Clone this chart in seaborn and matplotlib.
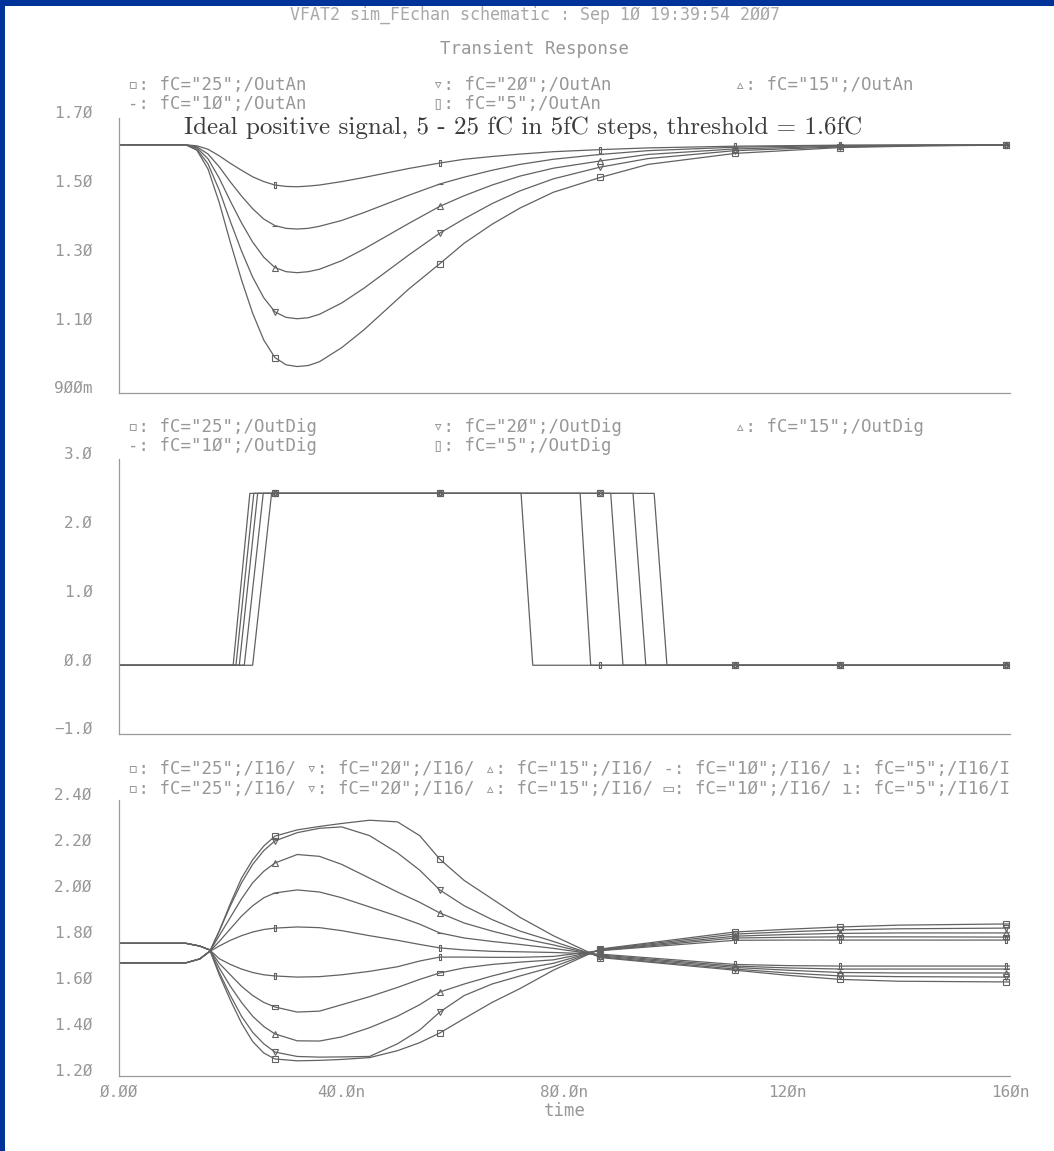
import numpy as np
import pandas as pd
import matplotlib
matplotlib.use("Agg")
import matplotlib.pyplot as plt
import matplotlib.transforms as mtransforms
from matplotlib.patches import Rectangle
from matplotlib.ticker import MultipleLocator
import seaborn as sns

# ---------------- data ----------------
MARK_T = [28, 57.6, 86.4, 110.6, 129.5, 159.2]

# panel 1 : /OutAn
T_AN = [0, 12, 14, 16, 18, 20, 22, 24, 26, 28, 30, 32, 34, 36, 40, 44, 48, 52,
        57.6, 62, 67, 72, 78, 86.4, 95, 110.6, 129.5, 145, 159.2, 160]
AN_25 = [1.622, 1.622, 1.606, 1.551, 1.454, 1.338, 1.229, 1.132, 1.054, 1.003, 0.982, 0.977,
         0.980, 0.991, 1.032, 1.084, 1.143, 1.202, 1.276, 1.336, 1.391, 1.438, 1.484, 1.527,
         1.565, 1.597, 1.614, 1.619, 1.621, 1.621]
AN_20 = [1.622, 1.622, 1.609, 1.566, 1.490, 1.399, 1.313, 1.237, 1.177, 1.136, 1.120, 1.116,
         1.119, 1.129, 1.162, 1.205, 1.253, 1.301, 1.365, 1.407, 1.451, 1.488, 1.523, 1.557,
         1.582, 1.605, 1.616, 1.620, 1.621, 1.621]
AN_15 = [1.622, 1.622, 1.613, 1.581, 1.525, 1.458, 1.395, 1.339, 1.295, 1.265, 1.253, 1.250,
         1.253, 1.260, 1.285, 1.319, 1.356, 1.393, 1.443, 1.474, 1.505, 1.531, 1.554, 1.575,
         1.594, 1.610, 1.618, 1.620, 1.621, 1.621]
AN_10 = [1.622, 1.622, 1.616, 1.595, 1.558, 1.514, 1.473, 1.436, 1.406, 1.387, 1.379, 1.377,
         1.379, 1.385, 1.402, 1.425, 1.450, 1.475, 1.508, 1.528, 1.548, 1.565, 1.580, 1.594,
         1.605, 1.615, 1.620, 1.621, 1.622, 1.622]
AN_5 = [1.622, 1.622, 1.619, 1.609, 1.590, 1.568, 1.548, 1.529, 1.515, 1.505, 1.501, 1.500,
        1.502, 1.505, 1.515, 1.527, 1.540, 1.553, 1.569, 1.580, 1.588, 1.595, 1.602, 1.608,
        1.613, 1.618, 1.621, 1.622, 1.622, 1.622]

# panel 2 : /OutDig
DIG_T25 = [0, 20.5, 23.5, 28, 57.6, 86.4, 96.1, 98.4, 110.6, 129.5, 159.2, 160]
DIG_V25 = [0, 0, 2.5, 2.5, 2.5, 2.5, 2.5, 0, 0, 0, 0, 0]
DIG_T20 = [0, 21.0, 24.2, 28, 57.6, 86.4, 92.3, 94.6, 110.6, 129.5, 159.2, 160]
DIG_V20 = [0, 0, 2.5, 2.5, 2.5, 2.5, 2.5, 0, 0, 0, 0, 0]
DIG_T15 = [0, 21.6, 24.9, 28, 57.6, 86.4, 88.3, 90.5, 110.6, 129.5, 159.2, 160]
DIG_V15 = [0, 0, 2.5, 2.5, 2.5, 2.5, 2.5, 0, 0, 0, 0, 0]
DIG_T10 = [0, 22.5, 25.9, 28, 57.6, 82.8, 84.7, 86.4, 110.6, 129.5, 159.2, 160]
DIG_V10 = [0, 0, 2.5, 2.5, 2.5, 2.5, 0, 0, 0, 0, 0, 0]
DIG_T5 = [0, 24.0, 27.4, 28, 57.6, 72.2, 74.3, 86.4, 110.6, 129.5, 159.2, 160]
DIG_V5 = [0, 0, 2.5, 2.5, 2.5, 2.5, 0, 0, 0, 0, 0, 0]

# panel 3 : /I16/
T_I = [0, 12, 14.5, 16.3, 18, 20, 22, 24, 26, 28, 32, 36, 40, 45, 50, 54, 57.6,
       62, 67, 72, 78, 86.4, 110.6, 120, 129.5, 140, 159.2, 160]
UP_25 = [1.692, 1.692, 1.709, 1.742, 1.83, 1.95, 2.06, 2.14, 2.20, 2.243, 2.27, 2.285, 2.298, 2.312,
         2.305, 2.245, 2.143, 2.05, 1.97, 1.89, 1.81, 1.715, 1.660, 1.638, 1.620, 1.612, 1.609, 1.609]
UP_20 = [1.692, 1.692, 1.709, 1.742, 1.83, 1.94, 2.04, 2.12, 2.18, 2.222, 2.258, 2.277, 2.283, 2.245,
         2.17, 2.095, 2.009, 1.94, 1.88, 1.83, 1.785, 1.718, 1.665, 1.648, 1.635, 1.632, 1.630, 1.630]
UP_15 = [1.692, 1.692, 1.709, 1.742, 1.81, 1.89, 1.97, 2.04, 2.09, 2.126, 2.163, 2.155, 2.12, 2.06,
         2.0, 1.955, 1.909, 1.865, 1.83, 1.80, 1.77, 1.722, 1.672, 1.660, 1.650, 1.648, 1.648, 1.648]
UP_10 = [1.692, 1.692, 1.709, 1.742, 1.785, 1.84, 1.895, 1.94, 1.975, 1.996, 2.009, 2.0, 1.975, 1.935,
         1.895, 1.86, 1.822, 1.80, 1.785, 1.772, 1.755, 1.726, 1.678, 1.670, 1.665, 1.665, 1.665, 1.665]
UP_5 = [1.692, 1.692, 1.709, 1.742, 1.765, 1.79, 1.81, 1.826, 1.837, 1.843, 1.848, 1.845, 1.832, 1.81,
        1.79, 1.772, 1.757, 1.748, 1.742, 1.740, 1.737, 1.730, 1.685, 1.680, 1.678, 1.678, 1.678, 1.678]
DN_25 = [1.777, 1.777, 1.765, 1.748, 1.64, 1.53, 1.43, 1.35, 1.30, 1.274, 1.266, 1.268, 1.272, 1.280,
         1.31, 1.345, 1.387, 1.45, 1.52, 1.58, 1.66, 1.752, 1.826, 1.838, 1.848, 1.856, 1.861, 1.861]
DN_20 = [1.777, 1.777, 1.765, 1.748, 1.65, 1.55, 1.46, 1.39, 1.34, 1.304, 1.285, 1.282, 1.283, 1.285,
         1.34, 1.40, 1.478, 1.55, 1.60, 1.635, 1.675, 1.750, 1.817, 1.827, 1.835, 1.840, 1.843, 1.843]
DN_15 = [1.777, 1.777, 1.765, 1.748, 1.67, 1.59, 1.52, 1.46, 1.415, 1.383, 1.353, 1.352, 1.37, 1.41,
         1.46, 1.51, 1.565, 1.60, 1.635, 1.665, 1.69, 1.748, 1.808, 1.815, 1.820, 1.822, 1.822, 1.822]
DN_10 = [1.777, 1.777, 1.765, 1.748, 1.69, 1.64, 1.59, 1.55, 1.52, 1.50, 1.478, 1.482, 1.51, 1.545,
         1.585, 1.62, 1.648, 1.67, 1.685, 1.695, 1.705, 1.746, 1.800, 1.803, 1.805, 1.805, 1.804, 1.804]
DN_5 = [1.777, 1.777, 1.765, 1.748, 1.71, 1.685, 1.665, 1.65, 1.64, 1.635, 1.630, 1.632, 1.64, 1.655,
        1.675, 1.70, 1.717, 1.717, 1.716, 1.716, 1.72, 1.745, 1.790, 1.791, 1.791, 1.791, 1.791, 1.791]

# tick labels (slashed zeros as drawn)
X_TICKS = [0, 40, 80, 120, 160]
X_LABELS = ["Ø.ØØ", "4Ø.Øn", "8Ø.Øn", "12Øn", "16Øn"]
Y1_TICKS = [0.9, 1.1, 1.3, 1.5, 1.7]
Y1_LABELS = ["9ØØm", "1.1Ø", "1.3Ø", "1.5Ø", "1.7Ø"]
Y2_TICKS = [-1, 0, 1, 2, 3]
Y2_LABELS = ["−1.Ø", "Ø.Ø", "1.Ø", "2.Ø", "3.Ø"]
Y3_TICKS = [1.2, 1.4, 1.6, 1.8, 2.0, 2.2, 2.4]
Y3_LABELS = ["1.2Ø", "1.4Ø", "1.6Ø", "1.8Ø", "2.ØØ", "2.2Ø", "2.4Ø"]

# ---------------- style ----------------
sns.set_theme(style="white")
plt.rcParams["font.family"] = ["DejaVu Sans Mono", "DejaVu Sans"]

W, H = 1054, 1151
BLUE = "#003399"
AXC = "#9a9a9a"
TXC = "#979797"
LINE = "#626262"

TALL = [(-0.4, -1), (0.4, -1), (0.4, 1), (-0.4, 1), (-0.4, -1)]
WIDE = [(-1, -0.45), (1, -0.45), (1, 0.45), (-1, 0.45), (-1, -0.45)]

fig = plt.figure(figsize=(W / 100, H / 100), dpi=100)
fig.patch.set_facecolor("white")


def px_axes(x0, x1, ytop, ybot):
    return fig.add_axes([x0 / W, 1 - ybot / H, (x1 - x0) / W, (ybot - ytop) / H])


def style(ax, ylim, yt, yl, yminor, xlabels):
    ax.set_facecolor("white")
    ax.set_xlim(0, 160)
    ax.set_ylim(*ylim)
    for s in ["top", "right"]:
        ax.spines[s].set_visible(False)
    for s in ["left", "bottom"]:
        ax.spines[s].set_color(AXC)
        ax.spines[s].set_linewidth(0.9)
    ax.set_xticks(X_TICKS)
    ax.set_xticklabels(X_LABELS if xlabels else [""] * len(X_TICKS))
    ax.xaxis.set_minor_locator(MultipleLocator(4))
    ax.set_yticks(yt)
    ax.set_yticklabels(yl)
    ax.yaxis.set_minor_locator(MultipleLocator(yminor))
    ax.tick_params(which="both", direction="in", color=AXC, labelcolor=TXC,
                   width=0.8, labelsize=11.5)
    ax.tick_params(which="major", length=4.5)
    ax.tick_params(which="minor", length=2.2)
    ax.tick_params(axis="y", pad=19)
    ax.tick_params(axis="x", pad=6)
    ax.set_xlabel("")
    ax.set_ylabel("")
    off = mtransforms.ScaledTranslation(0, 6 / 100, fig.dpi_scale_trans)
    for lab in ax.get_yticklabels():
        lab.set_transform(lab.get_transform() + off)
    ax.grid(False)


def draw(ax, t, v, marker, ms=5):
    t = np.asarray(t, float)
    v = np.asarray(v, float)
    idx = [int(i) for i in np.where(np.isin(np.round(t, 1), MARK_T))[0]]
    df = pd.DataFrame({"t": t, "v": v})
    sns.lineplot(data=df, x="t", y="v", ax=ax, color=LINE, linewidth=0.9,
                 marker=marker, markevery=idx, markersize=ms,
                 markerfacecolor="none", markeredgecolor=LINE, markeredgewidth=0.8,
                 estimator=None, sort=False, legend=False)


ax1 = px_axes(119, 1010, 118, 393)
ax2 = px_axes(119, 1010, 459, 734)
ax3 = px_axes(119, 1010, 800, 1076)

# panel 1
for vals, mk in [(AN_25, "s"), (AN_20, "v"), (AN_15, "^"), (AN_10, "_"), (AN_5, TALL)]:
    draw(ax1, T_AN, vals, mk)
style(ax1, (0.9, 1.7), Y1_TICKS, Y1_LABELS, 0.02, False)

# panel 2
for tt, vv, mk in [(DIG_T25, DIG_V25, "s"), (DIG_T20, DIG_V20, "v"), (DIG_T15, DIG_V15, "^"),
                   (DIG_T10, DIG_V10, "_"), (DIG_T5, DIG_V5, TALL)]:
    draw(ax2, tt, vv, mk)
style(ax2, (-1.0, 3.0), Y2_TICKS, Y2_LABELS, 0.1, False)

# panel 3
for vals, mk in [(UP_25, "s"), (UP_20, "v"), (UP_15, "^"), (UP_10, "_"), (UP_5, TALL),
                 (DN_25, "s"), (DN_20, "v"), (DN_15, "^"), (DN_10, WIDE), (DN_5, TALL)]:
    draw(ax3, T_I, vals, mk)
style(ax3, (1.2, 2.4), Y3_TICKS, Y3_LABELS, 0.04, True)
ax3.set_xlabel("time", color=TXC, fontsize=12.5, labelpad=2)


# ---------------- texts ----------------
def ftext(x, y, s, size=12.5, color=TXC, ha="left", **kw):
    fig.text(x / W, 1 - y / H, s, fontsize=size, color=color, ha=ha, va="center", **kw)


ftext(535, 15, "VFAT2 sim_FEchan schematic : Sep 1Ø 19:39:54 2ØØ7", size=12, color="#a8a8a8",
      ha="center")
ftext(535, 49, "Transient Response", size=12.5, ha="center")

ftext(128, 85, '▫: fC="25";/OutAn')
ftext(433, 85, '▿: fC="2Ø";/OutAn')
ftext(735, 85, '▵: fC="15";/OutAn')
ftext(128, 104, '-: fC="1Ø";/OutAn')
ftext(433, 104, '▯: fC="5";/OutAn')

ftext(523, 128, "Ideal positive signal, 5 - 25 fC in 5fC steps, threshold = 1.6fC",
      size=18, color="#3c3c3c", ha="center", family=["cmr10", "DejaVu Serif"])

ftext(128, 427, '▫: fC="25";/OutDig')
ftext(433, 427, '▿: fC="2Ø";/OutDig')
ftext(735, 427, '▵: fC="15";/OutDig')
ftext(128, 446, '-: fC="1Ø";/OutDig')
ftext(433, 446, '▯: fC="5";/OutDig')

ftext(128, 769, '▫: fC="25";/I16/ ▿: fC="2Ø";/I16/ ▵: fC="15";/I16/ -: fC="1Ø";/I16/ ı: fC="5";/I16/I')
ftext(128, 789, '▫: fC="25";/I16/ ▿: fC="2Ø";/I16/ ▵: fC="15";/I16/ ▭: fC="1Ø";/I16/ ı: fC="5";/I16/I')

# blue frame
fig.patches.append(Rectangle((0, 1 - 6 / H), 1, 6 / H, transform=fig.transFigure,
                             facecolor=BLUE, edgecolor="none", zorder=10))
fig.patches.append(Rectangle((0, 0), 5 / W, 1, transform=fig.transFigure,
                             facecolor=BLUE, edgecolor="none", zorder=10))

fig.savefig("out.png", dpi=100, facecolor="white")
